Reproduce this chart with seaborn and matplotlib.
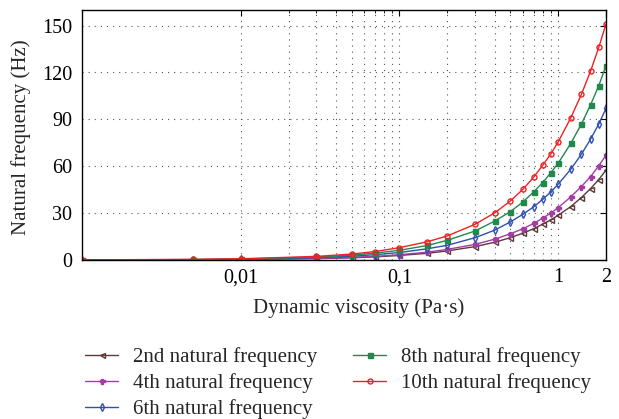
import numpy as np
import pandas as pd
import matplotlib
matplotlib.use("Agg")
import matplotlib.pyplot as plt
import seaborn as sns
from matplotlib.ticker import FixedLocator, FixedFormatter, NullFormatter

sns.set_theme(style="white")
plt.rcParams['font.family'] = ['Liberation Serif', 'DejaVu Serif']

viscosity = [0.001, 0.005, 0.01, 0.03, 0.05, 0.07, 0.1, 0.15, 0.2, 0.3, 0.4, 0.5,
             0.6, 0.7, 0.8, 0.9, 1.0, 1.2, 1.4, 1.6, 1.8, 2.0]
f2 = [0.03, 0.15, 0.3, 0.9, 1.4, 2.0, 2.9, 4.3, 5.8, 8.6, 11.4, 14.3,
      17.2, 20.0, 23.0, 25.8, 28.6, 34.2, 40.0, 45.7, 51.5, 57.5]
f4 = [0.03, 0.17, 0.34, 1.0, 1.7, 2.3, 3.4, 5.0, 6.8, 10.0, 13.4, 16.8,
      20.0, 23.4, 26.8, 30.1, 33.5, 40.4, 47.0, 53.4, 60.3, 67.0]
f6 = [0.05, 0.24, 0.5, 1.5, 2.4, 3.4, 4.8, 7.2, 9.4, 14.3, 19.2, 24.4,
      29.3, 34.0, 38.9, 43.6, 48.5, 58.1, 67.7, 77.4, 87.0, 97.0]
f8 = [0.06, 0.3, 0.6, 1.9, 3.1, 4.4, 6.2, 9.3, 12.6, 18.6, 25.0, 31.0,
      37.2, 43.6, 49.6, 56.0, 62.0, 74.6, 87.0, 99.4, 111.5, 124.4]
f10 = [0.08, 0.4, 0.8, 2.3, 3.8, 5.4, 7.9, 11.7, 15.4, 22.9, 30.3, 37.8,
       45.3, 53.0, 60.7, 68.0, 75.6, 91.0, 106.0, 121.0, 136.0, 151.0]

labels = ["2nd natural frequency", "4th natural frequency", "6th natural frequency",
          "8th natural frequency", "10th natural frequency"]
series = [f2, f4, f6, f8, f10]
colors = ["#5c3a3a", "#a43ca4", "#3050b0", "#1f8a4c", "#ee2222"]
markers = ["<", "P", "d", "s", "o"]
facecols = ["none", None, "none", None, "none"]

x_major = [0.01, 0.1, 1, 2]
x_major_labels = ["0,01", "0,1", "1", "2"]
x_grid = [0.01, 0.02, 0.03, 0.04, 0.05, 0.06, 0.07, 0.08, 0.09, 0.1,
          0.2, 0.3, 0.4, 0.5, 0.6, 0.7, 0.8, 0.9, 1.0]
y_ticks = [0, 30, 60, 90, 120, 150]

fig = plt.figure(figsize=(6.19, 4.19), dpi=100)
ax = fig.add_axes([82/619, 1-260/419, (606-82)/619, (260-10)/419])

for lab, vals, c, m, fc in zip(labels, series, colors, markers, facecols):
    kw = dict(markerfacecolor=fc) if fc else dict(markerfacecolor=c)
    sns.lineplot(x=viscosity, y=vals, ax=ax, color=c, marker=m, markersize=3.6,
                 markeredgecolor=c, markeredgewidth=1.0, linewidth=1.0, label=lab, **kw)

ax.set_xscale("log")
ax.set_xlim(0.001, 2)
ax.set_ylim(0, 160)

ax.xaxis.set_major_locator(FixedLocator(x_major))
ax.xaxis.set_major_formatter(FixedFormatter(x_major_labels))
ax.xaxis.set_minor_locator(FixedLocator(x_grid))
ax.xaxis.set_minor_formatter(NullFormatter())
ax.set_yticks(y_ticks)

ax.grid(False)
for xv in x_grid:
    ax.axvline(xv, color="#555555", linestyle=(0, (1, 4.5)), linewidth=0.8, zorder=0)
for yv in y_ticks[1:]:
    ax.axhline(yv, color="#555555", linestyle=(0, (1, 4.5)), linewidth=0.8, zorder=0)

ax.tick_params(axis="both", which="both", direction="in", top=True, right=True,
               labelsize=14.5, colors="black")
ax.tick_params(axis="x", which="major", pad=6)
ax.tick_params(axis="y", which="major", pad=7)
ax.tick_params(axis="both", which="major", length=4, width=0.8)
ax.tick_params(axis="both", which="minor", length=2, width=0.6)
for s in ax.spines.values():
    s.set_color("black")
    s.set_linewidth(1.0)

ax.set_xlabel("Dynamic viscosity (Pa·s)", fontsize=15)
ax.set_ylabel("Natural frequency (Hz)", fontsize=15)
ax.xaxis.set_label_coords((359-82)/524, -(308-260)/250, transform=ax.transAxes)
ax.xaxis.label.set_verticalalignment("center")
ax.yaxis.set_label_coords(-(82-21)/524, (260-137.5)/250, transform=ax.transAxes)
ax.yaxis.label.set_verticalalignment("center")

handles, labs = ax.get_legend_handles_labels()
ax.get_legend().remove()
fig.legend(handles, labs, loc="upper left", bbox_to_anchor=(85/619, 1-347/419),
           ncol=2, frameon=False, fontsize=15, handlelength=1.6,
           columnspacing=1.7, labelspacing=0.3, handletextpad=0.72, borderaxespad=0,
           borderpad=0)

fig.savefig("out.png", dpi=100)
